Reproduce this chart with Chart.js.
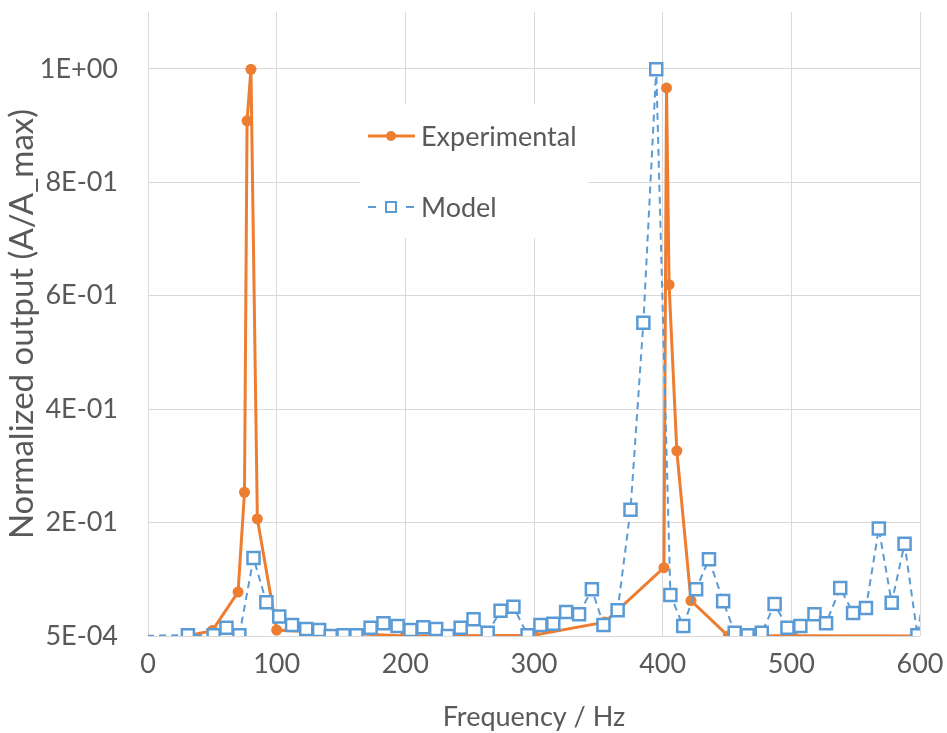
<!DOCTYPE html>
<html>
<head>
<meta charset="utf-8">
<script src="https://cdn.jsdelivr.net/npm/chart.js@4.4.1/dist/chart.umd.min.js"></script>
<style>
  html, body { margin: 0; padding: 0; background: #ffffff; }
  #wrap { width: 947px; height: 733px; position: relative; }
</style>
</head>
<body>
<div id="wrap"><canvas id="c" width="947" height="733"></canvas></div>
<script>
// ---- Data ----
const expFreq = [30, 50, 70, 75, 77, 80, 85, 100, 200, 300, 355, 401, 403, 405, 411, 422, 451, 501, 600];
const expValue = [0.0005, 0.010, 0.078, 0.254, 0.909, 1.000, 0.207, 0.011, 0.0005, 0.002, 0.025, 0.121, 0.967, 0.620, 0.327, 0.063, 0.0005, 0.001, 0.0005];

const modelFreq = [-10, 31, 51, 61, 71, 82, 92, 102, 112, 123, 133, 142, 152, 162, 173, 183, 194, 204, 214, 224, 233, 243, 253, 264, 274, 284, 295, 305, 315, 325, 335, 345, 354, 365, 375, 385, 395, 406, 416, 426, 436, 447, 456, 466, 477, 487, 497, 507, 518, 527, 538, 548, 558, 568, 578, 588, 598, 608];
const modelValue = [0.0005, 0.002, 0.002, 0.015, 0.002, 0.138, 0.060, 0.035, 0.020, 0.013, 0.011, 0.0005, 0.002, 0.002, 0.015, 0.023, 0.018, 0.011, 0.016, 0.013, 0.0005, 0.015, 0.030, 0.006, 0.045, 0.052, 0.002, 0.020, 0.022, 0.043, 0.039, 0.083, 0.020, 0.046, 0.223, 0.553, 1.000, 0.073, 0.018, 0.083, 0.136, 0.062, 0.006, 0.002, 0.006, 0.057, 0.015, 0.018, 0.039, 0.023, 0.085, 0.041, 0.050, 0.190, 0.059, 0.163, 0.002, 0.150];

const yTickValues = [0.0005, 0.2005, 0.4005, 0.6005, 0.8005, 1.0005];
const yTickLabels = ['5E-04', '2E-01', '4E-01', '6E-01', '8E-01', '1E+00'];
const xTickValues = [0, 100, 200, 300, 400, 500, 600];

const seriesNames = ['Experimental', 'Model'];
const xTitle = 'Frequency / Hz';
const yTitle = 'Normalized output (A/A_max)';

// ---- Styles ----
const ORANGE = '#ED7D31';
const BLUE = '#5B9BD5';
const TEXT = '#595959';
const GRID = '#d9d9d9';
const FONT = 'Lato, "Open Sans", sans-serif';

const toPts = (xs, ys) => xs.map((x, i) => ({ x: x, y: ys[i] }));

const legendPlugin = {
  id: 'customLegend',
  beforeDatasetsDraw(chart) {
    const ctx = chart.ctx;
    ctx.save();
    ctx.fillStyle = '#ffffff';
    ctx.fillRect(360, 104, 228, 134);
    ctx.restore();
  },
  afterDatasetsDraw(chart) {
    const ctx = chart.ctx;
    ctx.save();
    ctx.font = '27px ' + FONT;
    ctx.fillStyle = TEXT;
    ctx.textBaseline = 'middle';
    ctx.textAlign = 'left';
    // Experimental
    let y = 136;
    ctx.strokeStyle = ORANGE;
    ctx.lineWidth = 3;
    ctx.beginPath(); ctx.moveTo(368, y); ctx.lineTo(415, y); ctx.stroke();
    ctx.fillStyle = ORANGE;
    ctx.beginPath(); ctx.arc(391, y, 5, 0, Math.PI * 2); ctx.fill();
    ctx.fillStyle = TEXT;
    ctx.fillText(seriesNames[0], 421, y + 1);
    // Model
    y = 207;
    ctx.strokeStyle = BLUE;
    ctx.lineWidth = 2;
    ctx.beginPath(); ctx.moveTo(368, y); ctx.lineTo(376, y); ctx.stroke();
    ctx.beginPath(); ctx.moveTo(406, y); ctx.lineTo(414, y); ctx.stroke();
    ctx.fillStyle = '#ffffff';
    ctx.fillRect(386, y - 5, 10, 10);
    ctx.strokeRect(386, y - 5, 10, 10);
    ctx.fillStyle = TEXT;
    ctx.fillText(seriesNames[1], 421, y + 1);
    ctx.restore();
  }
};

new Chart(document.getElementById('c'), {
  type: 'scatter',
  data: {
    datasets: [
      {
        label: seriesNames[1],
        data: toPts(modelFreq, modelValue),
        showLine: true,
        borderColor: BLUE,
        borderWidth: 2,
        borderDash: [7, 5],
        pointStyle: 'rect',
        pointRadius: 8.5,
        pointBorderWidth: 2.5,
        pointBackgroundColor: '#ffffff',
        pointBorderColor: BLUE,
        order: 1
      },
      {
        label: seriesNames[0],
        data: toPts(expFreq, expValue),
        showLine: true,
        borderColor: ORANGE,
        borderWidth: 3,
        pointStyle: 'circle',
        pointRadius: 5.5,
        pointBorderWidth: 0,
        pointBackgroundColor: ORANGE,
        pointBorderColor: ORANGE,
        order: 2
      }
    ]
  },
  options: {
    responsive: false,
    animation: false,
    devicePixelRatio: 1,
    layout: { padding: { top: 12, right: 27, left: 0, bottom: 0 } },
    plugins: {
      legend: { display: false },
      tooltip: { enabled: false },
      title: { display: false }
    },
    scales: {
      x: {
        type: 'linear',
        min: 0,
        max: 600,
        afterBuildTicks: (s) => { s.ticks = xTickValues.map(v => ({ value: v })); },
        afterFit: (s) => { s.height = 97; s.paddingLeft = 0; s.paddingRight = 0; },
        grid: { color: GRID, lineWidth: 1, drawTicks: false },
        border: { display: false },
        ticks: { color: TEXT, font: { family: FONT, size: 27 }, padding: 12, maxRotation: 0 },
        title: { display: true, text: xTitle, color: TEXT, font: { family: FONT, size: 27 }, padding: { top: 0, bottom: 0 } }
      },
      y: {
        type: 'linear',
        min: 0.0005,
        max: 1.101,
        afterBuildTicks: (s) => { s.ticks = yTickValues.map(v => ({ value: v })); },
        afterFit: (s) => { s.width = 148; s.paddingTop = 0; s.paddingBottom = 0; },
        grid: { color: GRID, lineWidth: 1, drawTicks: false },
        border: { display: false },
        ticks: {
          color: TEXT,
          font: { family: FONT, size: 27 },
          padding: 30,
          callback: (v, i) => yTickLabels[i]
        },
        title: { display: true, text: yTitle, color: TEXT, font: { family: FONT, size: 33 }, padding: { top: 3, bottom: 0 } }
      }
    }
  },
  plugins: [legendPlugin]
});
</script>
</body>
</html>
